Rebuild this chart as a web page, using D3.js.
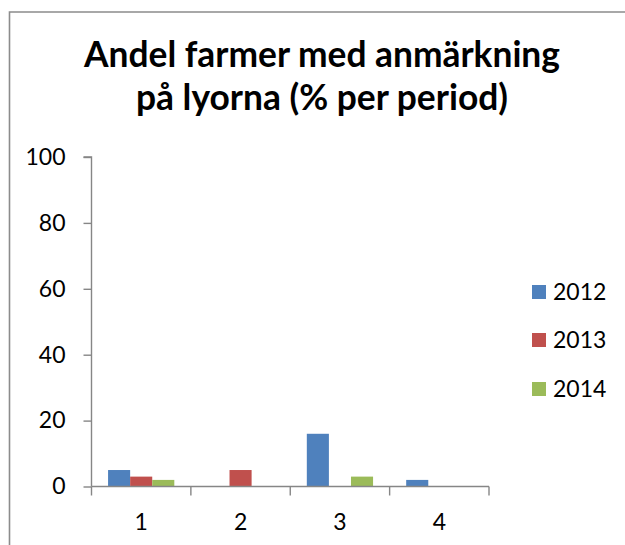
<!DOCTYPE html>
<html><head><meta charset="utf-8">
<script src="https://cdn.jsdelivr.net/npm/d3@7"></script>
<style>html,body{margin:0;padding:0;background:#fff;}svg{display:block;}</style>
</head><body>
<script>
const categories = ["1", "2", "3", "4"];
const seriesNames = ["2012", "2013", "2014"];
const values2012 = [5, 0, 16, 2];
const values2013 = [3, 5, 0, 0];
const values2014 = [2, 0, 3, 0];
const yTicks = [0, 20, 40, 60, 80, 100];
const titleLines = ["Andel farmer med anmärkning", "på lyorna (% per period)"];
const colors = ["#4F81BD", "#C0504D", "#9BBB59"];

const seriesValues = [values2012, values2013, values2014];
const W = 625, H = 545;
const font = "Lato, 'Open Sans', sans-serif";
const svg = d3.select("body").append("svg").attr("width", W).attr("height", H);
svg.append("rect").attr("width", W).attr("height", H).attr("fill", "#fff");

// chart frame (cropped on right and bottom)
svg.append("path").attr("d", `M9.5,${H + 5}V12H${W + 5}`)
  .attr("fill", "none").attr("stroke", "#8c8c8c").attr("stroke-width", 1.6);

// title
const titleTargets = [476, 372];
const titleBase = [67, 110];
titleLines.forEach((t, i) => {
  const el = svg.append("text").text(t)
    .attr("x", 322).attr("y", titleBase[i])
    .attr("text-anchor", "middle")
    .attr("font-family", font).attr("font-weight", "bold")
    .attr("font-size", 30).attr("fill", "#000");
  const w = el.node().getComputedTextLength();
  if (w > 0) el.attr("font-size", 30 * titleTargets[i] / w);
});

const x0 = 91.5, x1 = 489, yTop = 157, yBot = 486.5;
const x = d3.scaleBand().domain(categories).range([x0, x1]).paddingInner(0).paddingOuter(0);
const y = d3.scaleLinear().domain([0, 100]).range([yBot, yTop]);
const barW = x.bandwidth() / 4.5;
const xs = d3.scaleBand().domain(seriesNames).range([0, barW * 3]);

// bars
seriesNames.forEach((s, si) => {
  svg.append("g").selectAll("rect").data(categories.map((c, ci) => ({c, v: seriesValues[si][ci]})))
    .join("rect")
    .attr("x", d => x(d.c) + (x.bandwidth() - barW * 3) / 2 + xs(s))
    .attr("y", d => y(d.v))
    .attr("width", barW)
    .attr("height", d => y(0) - y(d.v))
    .attr("fill", colors[si]);
});

const axisColor = "#868686";
// y axis
const yAxis = svg.append("g").attr("transform", `translate(${x0},0)`)
  .call(d3.axisLeft(y).tickValues(yTicks).tickSize(8).tickPadding(18).tickFormat(d3.format("d")));
yAxis.select(".domain").attr("stroke", axisColor).attr("stroke-width", 1.4).attr("d", `M-8,${yTop}H0V${yBot}`);
yAxis.selectAll(".tick line").attr("stroke", axisColor).attr("stroke-width", 1.4);
yAxis.selectAll(".tick text").attr("font-family", font).attr("font-size", 23).attr("fill", "#000");

// x axis
const xAxis = svg.append("g").attr("transform", `translate(0,${yBot})`)
  .call(d3.axisBottom(x).tickSize(0).tickPadding(27));
xAxis.select(".domain").attr("stroke", axisColor).attr("stroke-width", 1.4).attr("d", `M${x0},0H${x1}`);
xAxis.selectAll(".tick text").attr("font-family", font).attr("font-size", 23).attr("fill", "#000");
// category boundary ticks
svg.append("g").selectAll("line").data(categories.concat(["end"]))
  .join("line")
  .attr("x1", (d, i) => i < categories.length ? x(d) : x1)
  .attr("x2", (d, i) => i < categories.length ? x(d) : x1)
  .attr("y1", yBot).attr("y2", yBot + 9)
  .attr("stroke", axisColor).attr("stroke-width", 1.4);

// legend
const leg = svg.append("g");
const legY = [292, 340, 389];
seriesNames.forEach((s, i) => {
  leg.append("rect").attr("x", 532).attr("y", legY[i] - 7).attr("width", 14).attr("height", 14).attr("fill", colors[i]);
  leg.append("text").text(s).attr("x", 553).attr("y", legY[i]).attr("dy", "0.35em")
    .attr("font-family", font).attr("font-size", 23).attr("fill", "#000");
});
</script>
</body></html>
